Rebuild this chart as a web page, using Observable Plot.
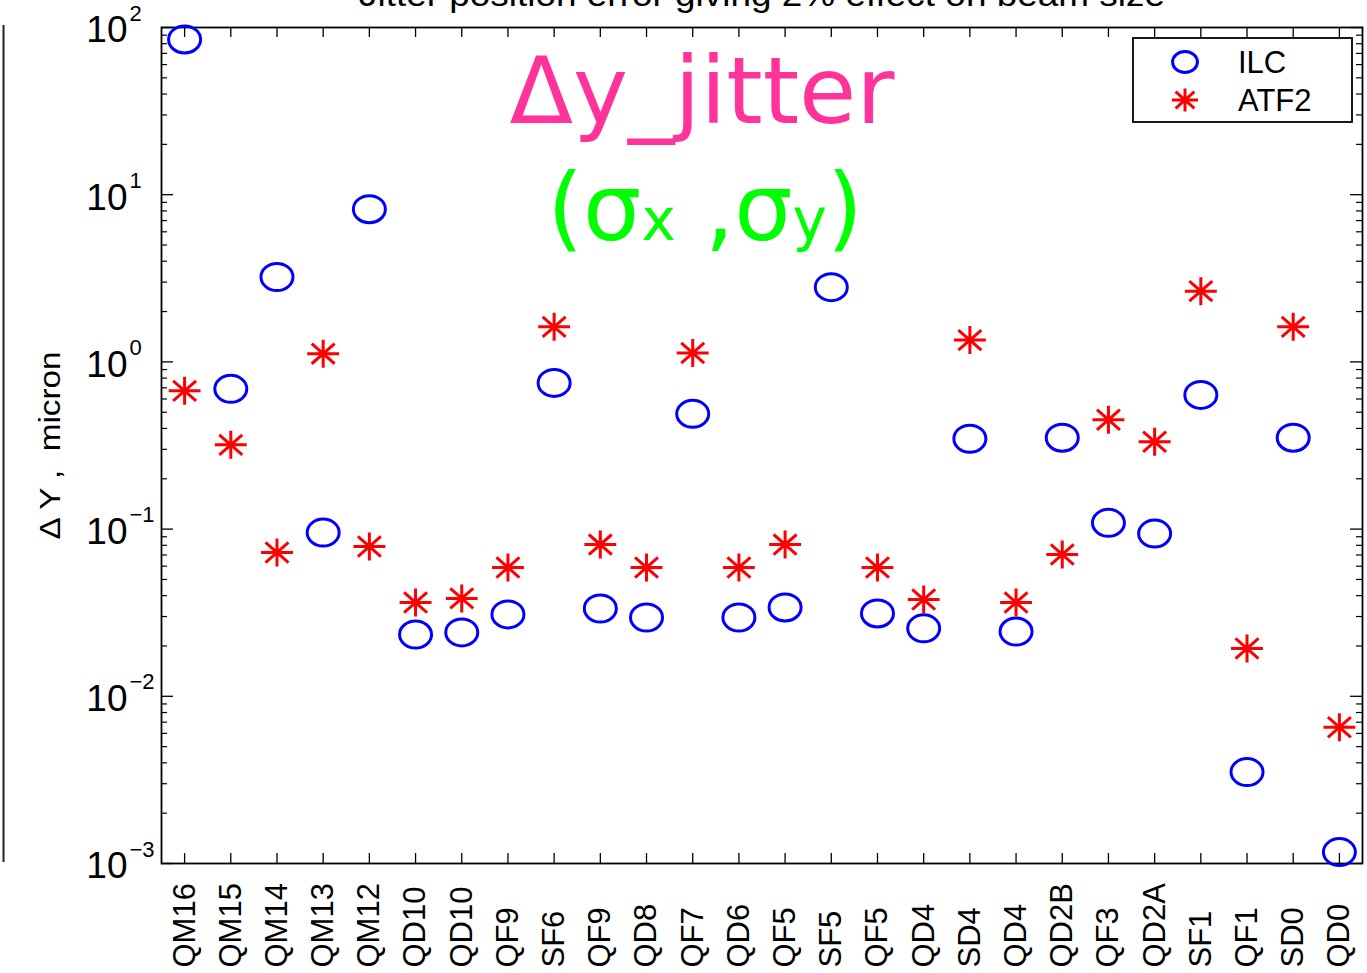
<!DOCTYPE html>
<html><head><meta charset="utf-8">
<script src="https://cdn.jsdelivr.net/npm/d3@7"></script>
<script src="https://cdn.jsdelivr.net/npm/@observablehq/plot@0.6"></script>
<style>
html,body{margin:0;padding:0;background:#fff;overflow:hidden}
#chart{position:relative;width:1367px;height:973px}
</style></head><body><div id="chart"></div>
<script>
// ---- data ----
const magnets = ["QM16","QM15","QM14","QM13","QM12","QD10","QD10","QF9","SF6","QF9","QD8","QF7","QD6","QF5","SF5","QF5","QD4","SD4","QD4","QD2B","QF3","QD2A","SF1","QF1","SD0","QD0"];
const ilc  = [84.8, 0.690, 3.22, 0.0953, 8.19, 0.0234, 0.0241, 0.0309, 0.749, 0.0335, 0.0296, 0.489, 0.0296, 0.0340, 2.80, 0.0313, 0.0255, 0.347, 0.0244, 0.352, 0.109, 0.0940, 0.635, 0.00352, 0.352, 0.00117];
const atf2 = [0.671, 0.319, 0.0724, 1.12, 0.0787, 0.0364, 0.0385, 0.0589, 1.62, 0.0808, 0.0589, 1.13, 0.0589, 0.0808, null, 0.0589, 0.0379, 1.35, 0.0364, 0.0705, 0.451, 0.333, 2.65, 0.0193, 1.62, 0.00653];
const seriesNames = ["ILC","ATF2"];
const yExponents = [-3,-2,-1,0,1,2];
const titleText = "Jitter position error giving 2% effect on beam size";
const yLabel = "\u0394 Y ,  micron";

// ---- derived ----
const idx = magnets.map((_, i) => i + 1);
const ilcRows = ilc.map((v, i) => ({i: i + 1, v}));
const atfRows = atf2.map((v, i) => ({i: i + 1, v})).filter(d => d.v != null);
const majors = yExponents.map(e => 10 ** e);
const minors = [];
for (const e of yExponents.slice(0, -1)) for (let k = 2; k <= 9; k++) minors.push(k * 10 ** e);

const W = 1367, H = 973, mT = 27, mB = 110, mL = 161, mR = 5;
const plotW = W - mL - mR, plotH = H - mT - mB;

const ellipse = { draw(ctx, size) {
  const r = Math.sqrt(size / Math.PI), rx = r * 1.185, ry = r, k = 0.5523;
  ctx.moveTo(rx, 0);
  ctx.bezierCurveTo(rx, ry * k, rx * k, ry, 0, ry);
  ctx.bezierCurveTo(-rx * k, ry, -rx, ry * k, -rx, 0);
  ctx.bezierCurveTo(-rx, -ry * k, -rx * k, -ry, 0, -ry);
  ctx.bezierCurveTo(rx * k, -ry, rx, -ry * k, rx, 0);
  ctx.closePath();
}};
const asterisk = { draw(ctx, size) {
  const r = Math.sqrt(size / Math.PI), a = r * 1.14, b = r, d = 0.72;
  ctx.moveTo(0, -b); ctx.lineTo(0, b);
  ctx.moveTo(-a, 0); ctx.lineTo(a, 0);
  ctx.moveTo(-a * d, -b * d); ctx.lineTo(a * d, b * d);
  ctx.moveTo(-a * d, b * d); ctx.lineTo(a * d, -b * d);
}};

const font = "'Liberation Sans', Arial, Helvetica, sans-serif";

const chart = Plot.plot({
  width: W, height: H,
  marginTop: mT, marginBottom: mB, marginLeft: mL, marginRight: mR,
  style: {fontFamily: font, background: "white", overflow: "visible"},
  x: {type: "linear", domain: [0.5, 26.5], axis: null},
  y: {type: "log", domain: [1e-3, 1e2], axis: null},
  marks: [
    // ticks (inward, MATLAB style)
    Plot.ruleX(idx, {x: d => d, insetTop: plotH - 10, stroke: "black", strokeWidth: 1.3}),
    Plot.ruleX(idx, {x: d => d, insetBottom: plotH - 10, stroke: "black", strokeWidth: 1.3}),
    Plot.ruleY(majors, {y: d => d, insetRight: plotW - 12, stroke: "black", strokeWidth: 1.3}),
    Plot.ruleY(majors, {y: d => d, insetLeft: plotW - 12, stroke: "black", strokeWidth: 1.3}),
    Plot.ruleY(minors, {y: d => d, insetRight: plotW - 6, stroke: "black", strokeWidth: 1.2}),
    Plot.ruleY(minors, {y: d => d, insetLeft: plotW - 6, stroke: "black", strokeWidth: 1.2}),
    Plot.frame({stroke: "black", strokeWidth: 1.8}),
    // y tick labels
    Plot.text(yExponents, {y: e => 10 ** e, text: () => "10", frameAnchor: "left", textAnchor: "end", dx: -34, dy: 3, fontSize: 37, fill: "black"}),
    Plot.text(yExponents, {y: e => 10 ** e, text: e => String(e).replace("-", "\u2212"), frameAnchor: "left", textAnchor: "start", dx: -32, dy: -14, fontSize: 22, fill: "black"}),
    // x tick labels
    Plot.text(idx, {x: d => d, text: d => magnets[d - 1], frameAnchor: "bottom", rotate: -90, textAnchor: "start", lineAnchor: "middle", dy: 104, fontSize: 31, fill: "black"}),
    // axis label
    Plot.text([yLabel], {text: d => d, frameAnchor: "left", textAnchor: "middle", rotate: -90, dx: -111, fontSize: 29, fill: "black"}),
    // title (cut off at the top)
    Plot.text([titleText], {text: d => d, frameAnchor: "top", textAnchor: "middle", dy: -22, lineAnchor: "bottom", fontSize: 33, fill: "black"}),
    // data
    Plot.dot(ilcRows, {x: "i", y: "v", symbol: ellipse, r: 13.5, stroke: "#0000ff", strokeWidth: 3, fill: "none"}),
    Plot.dot(atfRows, {x: "i", y: "v", symbol: asterisk, r: 14, stroke: "#ff0000", strokeWidth: 3, fill: "none"})
  ]
});
document.getElementById("chart").appendChild(chart);

const svg = d3.select(chart);
svg.selectAll("text").filter(function(){ return this.textContent === titleText; })
  .attr("textLength", 806).attr("lengthAdjust", "spacingAndGlyphs");
svg.selectAll("text").filter(function(){ return this.textContent === yLabel; })
  .attr("textLength", 188).attr("lengthAdjust", "spacingAndGlyphs");

// neighbouring subplot edge on the far left
svg.append("line").attr("x1", 3.5).attr("x2", 3.5).attr("y1", 25).attr("y2", 862)
  .attr("stroke", "#222").attr("stroke-width", 2);

// annotations
svg.append("text").attr("x", 702).attr("y", 123).attr("text-anchor", "middle")
  .attr("font-family", "'DejaVu Sans', Verdana, sans-serif").attr("font-size", 92)
  .attr("fill", "#ff3399").attr("textLength", 385).attr("lengthAdjust", "spacingAndGlyphs")
  .text("\u0394y_jitter");
const sig = svg.append("text").attr("x", 705).attr("y", 240).attr("text-anchor", "middle")
  .attr("font-family", "'DejaVu Sans', Verdana, sans-serif").attr("fill", "#00ff00");
sig.append("tspan").attr("font-size", 92).text("(\u03c3");
sig.append("tspan").attr("font-size", 58).text("x");
sig.append("tspan").attr("font-size", 92).text(" ,\u03c3");
sig.append("tspan").attr("font-size", 58).text("y");
sig.append("tspan").attr("font-size", 92).text(")");

// legend
const lg = svg.append("g");
lg.append("rect").attr("x", 1133).attr("y", 38).attr("width", 219).attr("height", 84)
  .attr("fill", "white").attr("stroke", "black").attr("stroke-width", 1.8);
lg.append("path").attr("transform", "translate(1185,62)")
  .attr("d", d3.symbol(ellipse, Math.PI * 10.5 * 10.5)())
  .attr("fill", "none").attr("stroke", "#0000ff").attr("stroke-width", 3);
lg.append("path").attr("transform", "translate(1185,100)")
  .attr("d", d3.symbol(asterisk, Math.PI * 11.5 * 11.5)())
  .attr("fill", "none").attr("stroke", "#ff0000").attr("stroke-width", 3);
seriesNames.forEach((s, k) => {
  lg.append("text").attr("x", 1238).attr("y", 73 + k * 38).attr("font-size", 31)
    .attr("text-anchor", "start").attr("font-family", font).attr("fill", "black").text(s);
});
</script>
</body></html>
